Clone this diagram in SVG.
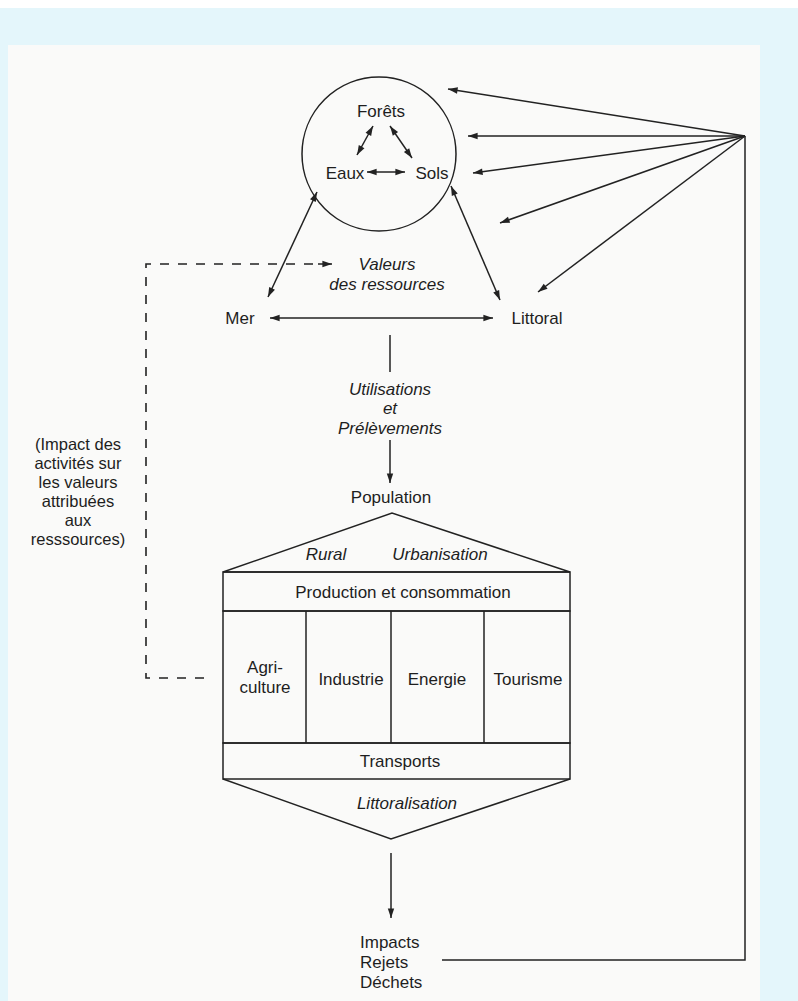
<svg xmlns="http://www.w3.org/2000/svg" width="798" height="1001" viewBox="0 0 798 1001">
<style>
text{font-family:"Liberation Sans",Arial,sans-serif;font-size:17px;fill:#1e1e1e;text-anchor:middle}
.i{font-style:italic}
.l{text-anchor:start}
.s{font-size:16.5px}
.ln{stroke:#222;stroke-width:1.5;fill:none}
.a{marker-end:url(#ah)}
.b{marker-start:url(#ahs);marker-end:url(#ah)}
.d{stroke:#222;stroke-width:1.6;fill:none;stroke-dasharray:9,9}
</style>
<defs>
<marker id="ah" viewBox="0 0 12 10" refX="12" refY="5" markerWidth="12" markerHeight="8" markerUnits="userSpaceOnUse" orient="auto"><path d="M0,1 L12,5 L0,9 Z" fill="#222"/></marker>
<marker id="ahs" viewBox="0 0 12 10" refX="0" refY="5" markerWidth="12" markerHeight="8" markerUnits="userSpaceOnUse" orient="auto"><path d="M12,1 L0,5 L12,9 Z" fill="#222"/></marker>
</defs>
<rect x="0" y="0" width="798" height="1001" fill="#ffffff"/>
<rect x="0" y="8" width="798" height="993" fill="#e4f6fb"/>
<rect x="8" y="45" width="752" height="956" fill="#fafaf9"/>

<g id="ressources">
<circle cx="379" cy="154" r="77" class="ln"/>
<text x="381" y="117">Forêts</text>
<text x="345" y="179">Eaux</text>
<text x="432" y="179">Sols</text>
</g>
<g id="valeurs"><text class="i" x="387" y="270">Valeurs</text><text class="i" x="387" y="290">des ressources</text></g>
<g id="mer"><text x="240" y="324">Mer</text></g>
<g id="littoral"><text x="537" y="324">Littoral</text></g>
<g id="utilisations"><text class="i" x="390" y="395">Utilisations</text><text class="i" x="390" y="414">et</text><text class="i" x="390" y="434">Prélèvements</text></g>
<g id="population"><text x="391" y="503">Population</text></g>
<g id="impact-label" class="s"><text class="s" x="78" y="450">(Impact des</text><text class="s" x="78" y="469">activités sur</text><text class="s" x="78" y="488">les valeurs</text><text class="s" x="78" y="507">attribuées</text><text class="s" x="78" y="526">aux</text><text class="s" x="78" y="545">resssources)</text></g>

<g id="systeme">
<path class="ln" d="M223,572 L392,513 L570,572 Z"/>
<text class="i" x="326" y="560">Rural</text>
<text class="i" x="440" y="560">Urbanisation</text>
<rect class="ln" x="223" y="572" width="347" height="39"/>
<text x="403" y="598">Production et consommation</text>
<rect class="ln" x="223" y="611" width="347" height="132"/>
<line class="ln" x1="306" y1="611" x2="306" y2="743"/>
<line class="ln" x1="391" y1="611" x2="391" y2="743"/>
<line class="ln" x1="484" y1="611" x2="484" y2="743"/>
<text x="265" y="673">Agri-</text><text x="265" y="693">culture</text>
<text x="351" y="685">Industrie</text>
<text x="437" y="685">Energie</text>
<text x="528" y="685">Tourisme</text>
<rect class="ln" x="223" y="743" width="347" height="36"/>
<text x="400" y="767">Transports</text>
<path class="ln" d="M223,779 L391,839 L570,779"/>
<text class="i" x="407" y="809">Littoralisation</text>
</g>
<g id="impacts"><text class="l" x="360" y="948">Impacts</text><text class="l" x="360" y="968">Rejets</text><text class="l" x="360" y="988">Déchets</text></g>

<g id="connectors">
<line class="ln b" x1="373" y1="126" x2="357" y2="155"/>
<line class="ln b" x1="390" y1="126" x2="412" y2="158"/>
<line class="ln b" x1="367" y1="172" x2="405" y2="172"/>
<line class="ln b" x1="317" y1="192" x2="268" y2="297"/>
<line class="ln b" x1="451" y1="186" x2="500" y2="300"/>
<line class="ln b" x1="270" y1="318" x2="493" y2="318"/>
<line class="ln" x1="390" y1="335" x2="390" y2="372"/>
<line class="ln a" x1="390" y1="440" x2="390" y2="483"/>
<line class="ln a" x1="391" y1="853" x2="391" y2="918"/>
<polyline class="ln" points="442,960 745,960 745,136"/>
<line class="ln a" x1="745" y1="136" x2="448" y2="89"/>
<line class="ln a" x1="745" y1="136" x2="468" y2="136"/>
<line class="ln a" x1="745" y1="136" x2="473" y2="173"/>
<line class="ln a" x1="745" y1="136" x2="500" y2="223"/>
<line class="ln a" x1="745" y1="136" x2="538" y2="292"/>
<polyline class="d" points="204,678 146,678 146,264 322,264"/>
<line class="ln a" x1="318" y1="264" x2="332" y2="264"/>
</g>
</svg>
